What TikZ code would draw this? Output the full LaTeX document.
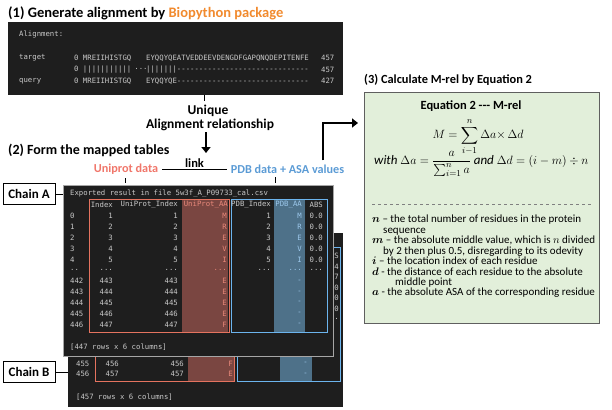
\documentclass[tikz,border=0pt]{standalone}
\usepackage{amsmath}
\usepackage{bm}
\usepackage{fontspec}
\setmainfont{Carlito}
\setmonofont{DejaVu Sans Mono}
\usetikzlibrary{calc, positioning}
\usetikzlibrary{arrows.meta}

\definecolor{consolebg}{HTML}{1E1E1E}
\definecolor{consoletxt}{HTML}{C8C8C8}
\definecolor{uniprotred}{HTML}{F0766A}
\definecolor{redline}{HTML}{E5735F}
\definecolor{redfill}{HTML}{7A4641}
\definecolor{redtxt}{HTML}{E8887A}
\definecolor{pdbblue}{HTML}{5B9BD5}
\definecolor{blueline}{HTML}{6CB4EE}
\definecolor{bluefill}{HTML}{4E7189}
\definecolor{bluetxt}{HTML}{9CC8EC}
\definecolor{bioorange}{HTML}{F18A2E}
\definecolor{eqgreen}{HTML}{E2EFDA}
\definecolor{eqborder}{HTML}{5F5F5F}

\newcommand{\rowdots}{...}
\newcommand{\rowdd}{..}
\newcommand{\onedot}{.}

\begin{document}
\begin{tikzpicture}[x=1pt, y=-1pt,
  heading/.style={anchor=west, inner sep=0, font=\fontsize{13.5}{15}\selectfont\bfseries},
  label/.style={font=\fontsize{13.5}{15}\selectfont\bfseries},
  data/.style={inner sep=4, font=\fontsize{12.2}{14}\selectfont\bfseries},
  con/.style={inner sep=0, text=consoletxt, font=\ttfamily\fontsize{7.3}{8}\selectfont},
  conbox/.style={fill=consolebg, inner sep=0, anchor=north west},
  chainbox/.style={draw, thick, fill=white, minimum width=52, minimum height=21,
    inner sep=1, font=\fontsize{13}{14}\selectfont\bfseries},
  arr/.style={line width=2.4pt, -{Triangle[length=6pt, width=9pt]}}]
\useasboundingbox (0,0) rectangle (612,409);

% (1) alignment
\node[heading, font=\fontsize{14.5}{16}\selectfont\bfseries] (t1) at (8,13)
  {(1) Generate alignment by {\color{bioorange}Biopython package}};
\node[conbox, minimum width=335, minimum height=73] (alnbox) at (8,22) {};
\node[con, anchor=west] (alnhead) at (19,34) {Alignment:};
\node[con, anchor=west] at (19,58) {target};
\node[con, anchor=west] at (74,58) {0 MREIIHISTGQ};
\node[con, anchor=west] at (146,58) {EYQQYQEATVEDDEEVDENGDFGAPQNQDEPITENFE};
\node[con, anchor=west] at (321,58) {457};
\node[con, anchor=west] at (74,70) {0 |||||||||||};
\node[con] at (141,70) {···};
\node[con, anchor=west] at (146,70) {|||||||------------------------------};
\node[con, anchor=west] at (321,70) {457};
\node[con, anchor=west] at (19,81) {query};
\node[con, anchor=west] at (74,81) {0 MREIIHISTGQ};
\node[con, anchor=west] at (146,81) {EYQQYQE------------------------------};
\node[con, anchor=west] at (321,81) {427};

\node[label, inner sep=1] (uniq) at (208,111) {Unique};
\node[label, inner sep=1] (rel) at (210,125) {Alignment relationship};
\coordinate (alntick) at (204,101);
\draw (alnbox.south -| alntick) -- (alntick);

% (2) mapped tables
\node[heading, font=\fontsize{14}{16}\selectfont\bfseries] (t2) at (8,150) {(2) Form the mapped tables};
\node[data, text=uniprotred] (uni) at (126,169) {Uniprot data};
\node[data, text=pdbblue] (pdb) at (287.5,169) {PDB data + ASA values};
\draw (uni) -- (pdb) node[midway, above, label, font=\fontsize{12.5}{14}\selectfont\bfseries, inner sep=1] (link) {link};
\coordinate (downend) at (206,153);
\draw[arr] (rel.south -| downend) -- (downend);

% chain B (behind)
\node[conbox, minimum width=275, minimum height=174] (tabB) at (68,233) {};
\fill[redfill] (188,247) rectangle (234,381);
\fill[bluefill] (280,247) rectangle (312,381);
\draw[redline] (95,247) rectangle (234,381);
\draw[blueline] (237,247) rectangle (340,381);
\foreach \ch/\yy in {S/256, 4/266.5, 7/277, 0/287.5, 0/298, 0/308.5, \onedot/319}
  \node[con, anchor=east] at (339,\yy) {\ch};
\foreach \ri/\ix/\ua [count=\k from 0] in {455/456/F, 456/457/E} {
  \pgfmathsetmacro{\yy}{363.5+10.8*\k}
  \node[con, anchor=west] at (76,\yy) {\ri};
  \node[con, anchor=east] at (119,\yy) {\ix};
  \node[con, anchor=east] at (184,\yy) {\ix};
  \node[con, anchor=east, text=redtxt] at (233,\yy) {\ua};
  \node[con, anchor=east, text=bluetxt] at (308,\yy) {-};
}
\node[con, anchor=west] at (76,397) {[457 rows x 6 columns]};

% chain A (front)
\node[conbox, draw=gray!70, minimum width=270, minimum height=171] (tabA) at (63,185) {};
\fill[redfill] (182,199) rectangle (228,332);
\fill[bluefill] (274,199) rectangle (305,332);
\draw[redline] (89,199) rectangle (229,332);
\draw[blueline] (231,199) rectangle (327,332);
\node[con, anchor=west] (csv) at (70,194) {Exported result in file 5w3f\_A\_P09733\_cal.csv};
\node[con, anchor=east] at (113,205) {Index};
\node[con, anchor=east] at (178,205) {UniProt\_Index};
\node[con, anchor=east, text=redtxt] at (228,205) {UniProt\_AA};
\node[con, anchor=east] at (271,205) {PDB\_Index};
\node[con, anchor=east, text=bluetxt] at (302,205) {PDB\_AA};
\node[con, anchor=east] at (323,205) {ABS};
\foreach \ri/\ix/\ui/\ua/\pix/\pa/\ab [count=\k from 0] in
  {0/1/1/M/1/M/0.0, 1/2/2/R/2/R/0.0, 2/3/3/E/3/E/0.0, 3/4/4/V/4/V/0.0,
   4/5/5/I/5/I/0.0, \rowdd/\rowdots/\rowdots/\rowdots/\rowdots/\rowdots/\rowdots,
   442/443/443/E/{}/-/{}, 443/444/444/E/{}/-/{}, 444/445/445/E/{}/-/{},
   445/446/446/E/{}/-/{}, 446/447/447/F/{}/-/{}} {
  \pgfmathsetmacro{\yy}{216+10.85*\k}
  \node[con, anchor=west] at (70,\yy) {\ri};
  \node[con, anchor=east] at (113,\yy) {\ix};
  \node[con, anchor=east] at (178,\yy) {\ui};
  \node[con, anchor=east, text=redtxt] at (227,\yy) {\ua};
  \node[con, anchor=east] at (271,\yy) {\pix};
  \node[con, anchor=east, text=bluetxt] at (302,\yy) {\pa};
  \node[con, anchor=east] at (323,\yy) {\ab};
}
\node[con, anchor=west] at (70,347) {[447 rows x 6 columns]};

\coordinate (unitick) at (125,183);
\coordinate (pdbtick) at (275,177);
\draw (uni.south -| unitick) -- (unitick);
\draw (pdbtick) -- (pdbtick |- 0,183);

\node[chainbox] (chainA) at (29,194) {Chain A};
\node[chainbox] (chainB) at (29,372) {Chain B};
\draw (chainA) -- (chainA -| tabA.west);
\draw (chainB) -- (chainB -| tabB.west);

% (3) equation
\node[heading, font=\fontsize{12.4}{14}\selectfont\bfseries] (t3) at (364,80) {(3) Calculate M-rel by Equation 2};
\node[fill=eqgreen, draw=eqborder, line width=1.1pt, inner sep=0, anchor=north west,
  minimum width=235, minimum height=231] (eqbox) at (364,92) {};
\coordinate (bend) at (323,123);
\coordinate (eqin) at (358,123);
\draw[arr] (pdb.north -| bend) -- (bend) -- (eqin);

\node[font=\fontsize{12.5}{14}\selectfont\bfseries, inner sep=0] (eqtitle) at (471,106)
  {Equation 2 {-}{-}{-} M-rel};
\node[font=\fontsize{13}{15}\selectfont, inner sep=0] (eqM) at (478,137)
  {$\displaystyle M=\sum_{i-1}^{n}\Delta a{\times}\,\Delta d$};
\node[anchor=west, inner sep=0, font=\fontsize{13}{15}\selectfont] (eqwith) at (374,164)
  {$\mathit{with}\ \Delta a=\dfrac{a}{\sum_{i=1}^{n}a}\ \mathit{and}\ \Delta d=(i-m)\div n$};
\draw[dashed, gray] (372,204) -- (591,204);
\node[anchor=north west, inner sep=0, align=left, font=\fontsize{11}{10.45}\selectfont]
  (eqlist) at (372,215) {%
  $\bm{n}$ – the total number of residues in the protein\\
  \hspace*{11pt}sequence\\
  $\bm{m}$ – the absolute middle value, which is $n$ divided\\
  \hspace*{11pt}by 2 then plus 0.5, disregarding to its odevity\\
  $\bm{i}$ – the location index of each residue\\
  $\bm{d}$ - the distance of each residue to the absolute\\
  \hspace*{23pt}middle point\\
  $\bm{a}$ - the absolute ASA of the corresponding residue};
\end{tikzpicture}
\end{document}
